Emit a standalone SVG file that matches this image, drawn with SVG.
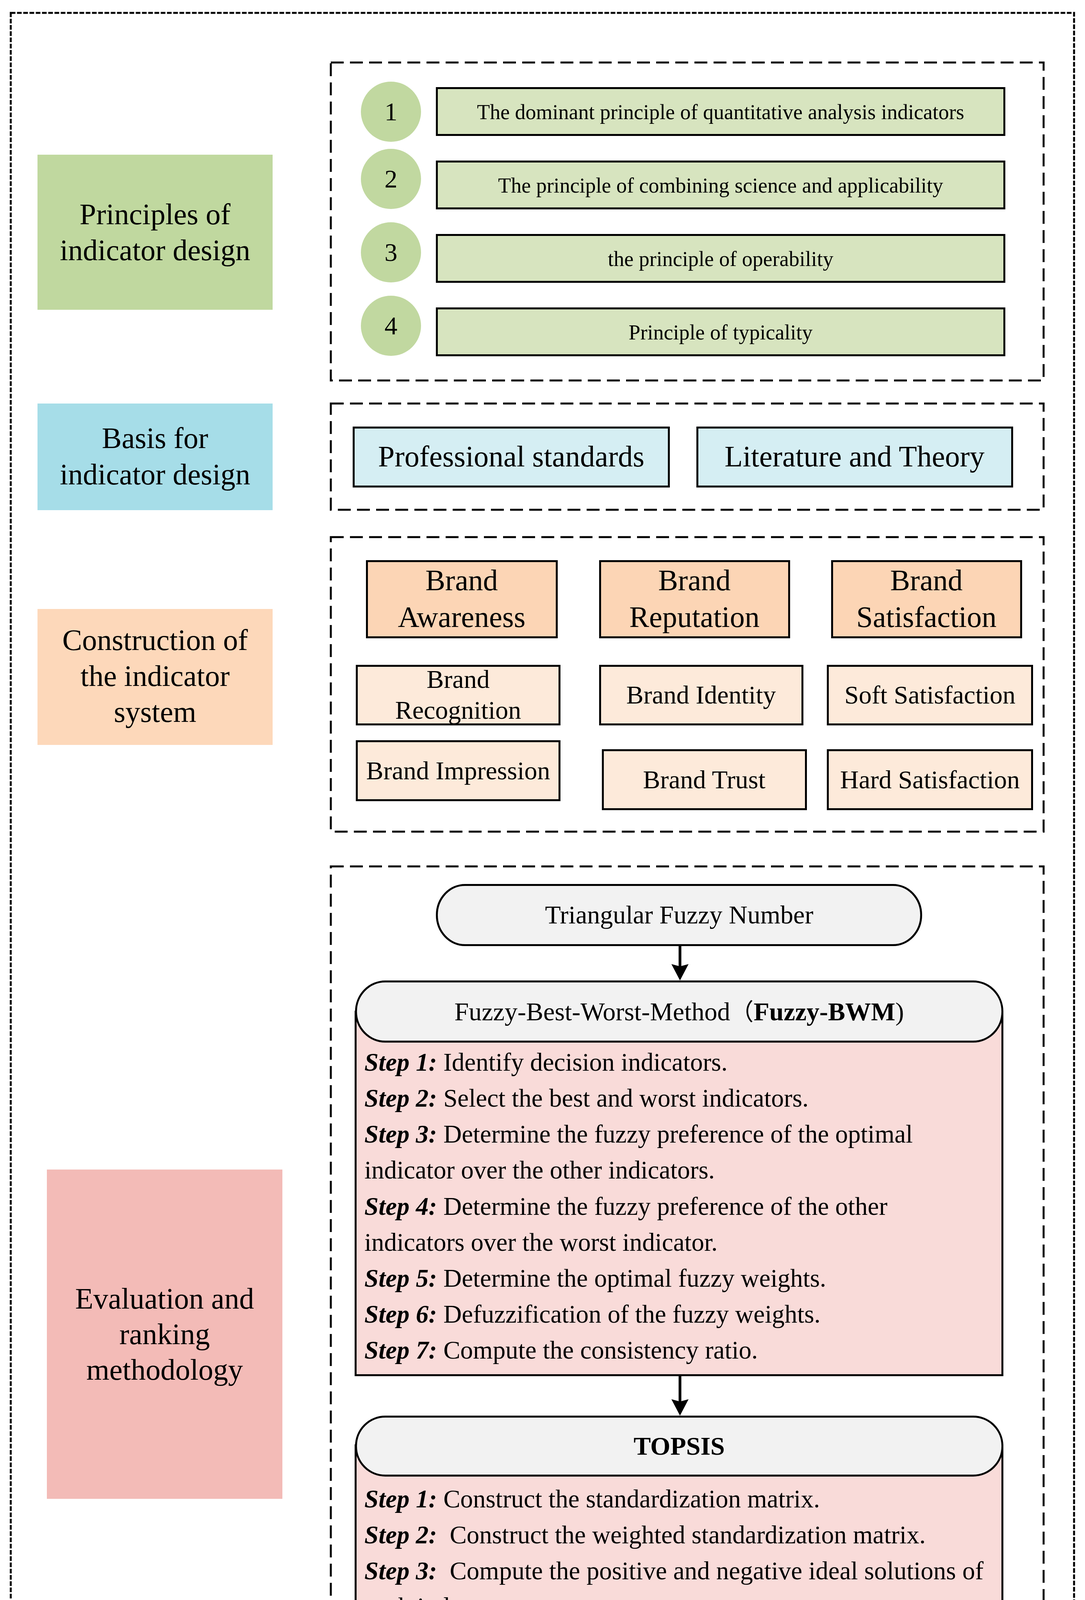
<svg xmlns="http://www.w3.org/2000/svg" width="2778" height="5432" viewBox="0 0 2778 5432">
<defs>
<style>
text{font-family:"Liberation Serif","Times New Roman",serif;fill:#000;}
.lbl{font-size:76px;text-anchor:middle;}
.pt{font-size:54px;text-anchor:middle;}
.num{font-size:66px;text-anchor:middle;}
.bx{font-size:76px;text-anchor:middle;}
.sb{font-size:66px;text-anchor:middle;}
.hd{font-size:66px;text-anchor:middle;}
.st{font-size:65px;}
.b{font-weight:bold;}
.bi{font-weight:bold;font-style:italic;}
.sec{fill:none;stroke:#000;stroke-width:5;stroke-dasharray:33 16;}
.outer{fill:none;stroke:#000;stroke-width:5;stroke-dasharray:12 4;}
.box{stroke:#000;stroke-width:5;}
.green{fill:#D7E4BF;}
.circ{fill:#C1D8A0;}
.cyan{fill:#D5EEF3;}
.or1{fill:#FCD5B5;}
.or2{fill:#FDEADA;}
.gray{fill:#F2F2F2;}
.pink{fill:#F9DBD9;}
.conn{stroke:#000;stroke-width:7;fill:none;marker-end:url(#arr);}
</style>
<marker id="arr" markerUnits="userSpaceOnUse" viewBox="0 -23 43 46" markerWidth="43" markerHeight="46" refX="12" refY="0" orient="auto">
<path d="M0,-22 L42,0 L0,22 L6,0 Z" fill="#000"/>
</marker>
</defs>
<rect width="2778" height="5432" fill="#fff"/>
<rect class="outer" x="27.5" y="33" width="2722.5" height="5371"/>

<!-- Section 1: Principles -->
<g id="sec-principles">
<rect class="sec" x="847" y="160" width="1825" height="814"/>
</g>
<g id="label-principles">
<rect x="96" y="396" width="602" height="397" fill="#C0D89F"/>
<text class="lbl" x="397" y="574">Principles of</text>
<text class="lbl" x="397" y="666">indicator design</text>
</g>
<g id="principle-1">
<circle class="circ" cx="1001" cy="286" r="77"/>
<text class="num" x="1001" y="308">1</text>
<rect class="box green" x="1118.5" y="225.5" width="1453" height="120"/>
<text class="pt" x="1845" y="305">The dominant principle of quantitative analysis indicators</text>
</g>
<g id="principle-2">
<circle class="circ" cx="1001" cy="458" r="77"/>
<text class="num" x="1001" y="480">2</text>
<rect class="box green" x="1118.5" y="413.5" width="1453" height="120"/>
<text class="pt" x="1845" y="493">The principle of combining science and applicability</text>
</g>
<g id="principle-3">
<circle class="circ" cx="1001" cy="646" r="77"/>
<text class="num" x="1001" y="668">3</text>
<rect class="box green" x="1118.5" y="601.5" width="1453" height="120"/>
<text class="pt" x="1845" y="681">the principle of operability</text>
</g>
<g id="principle-4">
<circle class="circ" cx="1001" cy="834" r="77"/>
<text class="num" x="1001" y="856">4</text>
<rect class="box green" x="1118.5" y="789.5" width="1453" height="120"/>
<text class="pt" x="1845" y="869">Principle of typicality</text>
</g>

<!-- Section 2: Basis -->
<g id="sec-basis">
<rect class="sec" x="847" y="1033" width="1825" height="272"/>
</g>
<g id="label-basis">
<rect x="96" y="1033" width="602" height="273" fill="#A6DDE8"/>
<text class="lbl" x="397" y="1147">Basis for</text>
<text class="lbl" x="397" y="1240">indicator design</text>
</g>
<g id="basis-professional">
<rect class="box cyan" x="905.5" y="1094.5" width="807" height="151"/>
<text class="bx" x="1309" y="1194">Professional standards</text>
</g>
<g id="basis-literature">
<rect class="box cyan" x="1785.5" y="1094.5" width="806" height="151"/>
<text class="bx" x="2188" y="1194">Literature and Theory</text>
</g>

<!-- Section 3: Construction -->
<g id="sec-construction">
<rect class="sec" x="847" y="1375" width="1825" height="754"/>
</g>
<g id="label-construction">
<rect x="96" y="1559" width="602" height="348" fill="#FDD8BA"/>
<text class="lbl" x="397" y="1664">Construction of</text>
<text class="lbl" x="397" y="1756">the indicator</text>
<text class="lbl" x="397" y="1848">system</text>
</g>
<g id="brand-awareness">
<rect class="box or1" x="939.5" y="1436.5" width="486" height="195"/>
<text class="bx" x="1182" y="1511">Brand</text>
<text class="bx" x="1182" y="1605">Awareness</text>
</g>
<g id="brand-reputation">
<rect class="box or1" x="1536.5" y="1436.5" width="484" height="195"/>
<text class="bx" x="1778" y="1511">Brand</text>
<text class="bx" x="1778" y="1605">Reputation</text>
</g>
<g id="brand-satisfaction">
<rect class="box or1" x="2130.5" y="1436.5" width="484" height="195"/>
<text class="bx" x="2372" y="1511">Brand</text>
<text class="bx" x="2372" y="1605">Satisfaction</text>
</g>
<g id="brand-recognition">
<rect class="box or2" x="913.5" y="1704.5" width="519" height="150"/>
<text class="sb" x="1173" y="1761">Brand</text>
<text class="sb" x="1173" y="1840">Recognition</text>
</g>
<g id="brand-identity">
<rect class="box or2" x="1536.5" y="1704.5" width="518" height="150"/>
<text class="sb" x="1795" y="1801">Brand Identity</text>
</g>
<g id="soft-satisfaction">
<rect class="box or2" x="2119.5" y="1704.5" width="523" height="150"/>
<text class="sb" x="2381" y="1801">Soft Satisfaction</text>
</g>
<g id="brand-impression">
<rect class="box or2" x="913.5" y="1897.5" width="519" height="151"/>
<text class="sb" x="1173" y="1995">Brand Impression</text>
</g>
<g id="brand-trust">
<rect class="box or2" x="1543.5" y="1920.5" width="520" height="151"/>
<text class="sb" x="1803" y="2018">Brand Trust</text>
</g>
<g id="hard-satisfaction">
<rect class="box or2" x="2119.5" y="1920.5" width="523" height="151"/>
<text class="sb" x="2381" y="2018">Hard Satisfaction</text>
</g>

<!-- Section 4: Evaluation -->
<g id="sec-evaluation">
<rect class="sec" x="847" y="2218" width="1825" height="2563"/>
</g>
<g id="label-evaluation">
<rect x="120" y="2994" width="603" height="843" fill="#F3BBB7"/>
<text class="lbl" x="421.5" y="3350">Evaluation and</text>
<text class="lbl" x="421.5" y="3441">ranking</text>
<text class="lbl" x="421.5" y="3532">methodology</text>
</g>
<g id="triangular">
<rect class="box gray" x="1118.5" y="2265.5" width="1240" height="154" rx="72" ry="77"/>
<text class="hd" x="1739" y="2364">Triangular Fuzzy Number</text>
</g>
<g id="fuzzy-bwm">
<rect class="box pink" x="910.5" y="2590" width="1656" height="930.5"/>
<rect class="box gray" x="911.5" y="2512.5" width="1655" height="154" rx="75" ry="77"/>
<text class="hd" x="1739" y="2612">Fuzzy-Best-Worst-Method<tspan font-family="'Noto Sans CJK SC',sans-serif" font-size="60">（</tspan><tspan class="b">Fuzzy-BWM</tspan>)</text>
<text class="st" x="933" y="2741"><tspan class="bi">Step 1:</tspan> Identify decision indicators.</text>
<text class="st" x="933" y="2833"><tspan class="bi">Step 2:</tspan> Select the best and worst indicators.</text>
<text class="st" x="933" y="2925"><tspan class="bi">Step 3:</tspan> Determine the fuzzy preference of the optimal</text>
<text class="st" x="933" y="3017">indicator over the other indicators.</text>
<text class="st" x="933" y="3110"><tspan class="bi">Step 4:</tspan> Determine the fuzzy preference of the other</text>
<text class="st" x="933" y="3202">indicators over the worst indicator.</text>
<text class="st" x="933" y="3294"><tspan class="bi">Step 5:</tspan> Determine the optimal fuzzy weights.</text>
<text class="st" x="933" y="3386"><tspan class="bi">Step 6:</tspan> Defuzzification of the fuzzy weights.</text>
<text class="st" x="933" y="3478"><tspan class="bi">Step 7:</tspan> Compute the consistency ratio.</text>
</g>
<g id="topsis">
<rect class="box pink" x="910.5" y="3700" width="1656" height="753.5"/>
<rect class="box gray" x="911.5" y="3626.5" width="1655" height="151" rx="75" ry="75"/>
<text class="hd b" x="1739" y="3724">TOPSIS</text>
<text class="st" x="933" y="3859" xml:space="preserve"><tspan class="bi">Step 1:</tspan> Construct the standardization matrix.</text>
<text class="st" x="933" y="3951" xml:space="preserve"><tspan class="bi">Step 2:</tspan>  Construct the weighted standardization matrix.</text>
<text class="st" x="933" y="4043" xml:space="preserve"><tspan class="bi">Step 3:</tspan>  Compute the positive and negative ideal solutions of</text>
<text class="st" x="933" y="4135">each index.</text>
<text class="st" x="933" y="4227"><tspan class="bi">Step 4:</tspan> Calculate the distance between each evaluation index</text>
<text class="st" x="933" y="4319">and the positive and negative ideal solutions.</text>
<text class="st" x="933" y="4411"><tspan class="bi">Step 5:</tspan> Compute comprehensive score index of each index.</text>
</g>
<g id="sorting">
<rect class="box" fill="#fff" x="1083.5" y="4551.5" width="1350" height="151" rx="72" ry="75"/>
<text class="hd b" x="1759" y="4649">Sorting based on real cases</text>
</g>

<!-- Section 5: Discussion -->
<g id="sec-discussion">
<rect class="sec" x="847" y="4858" width="1825" height="469"/>
</g>
<g id="label-discussion">
<rect x="120" y="4949" width="603" height="288" fill="#E1D5E7"/>
<text class="lbl" x="421.5" y="5072">Discussion and</text>
<text class="lbl" x="421.5" y="5163">conclusion</text>
</g>
<g id="summary">
<rect x="935" y="4899" width="1660" height="389" fill="#EFEAF2"/>
<text class="lbl" x="1765" y="5072">Summarise and make recommendations for the</text>
<text class="lbl" x="1765" y="5163">development of the historic and cultural landscape.</text>
</g>

<g id="connectors">
<line class="conn" x1="1741" y1="2422" x2="1741" y2="2480"/>
<line class="conn" x1="1741" y1="3523" x2="1741" y2="3594"/>
<line class="conn" x1="1759" y1="4456" x2="1759" y2="4519"/>
</g>
</svg>
